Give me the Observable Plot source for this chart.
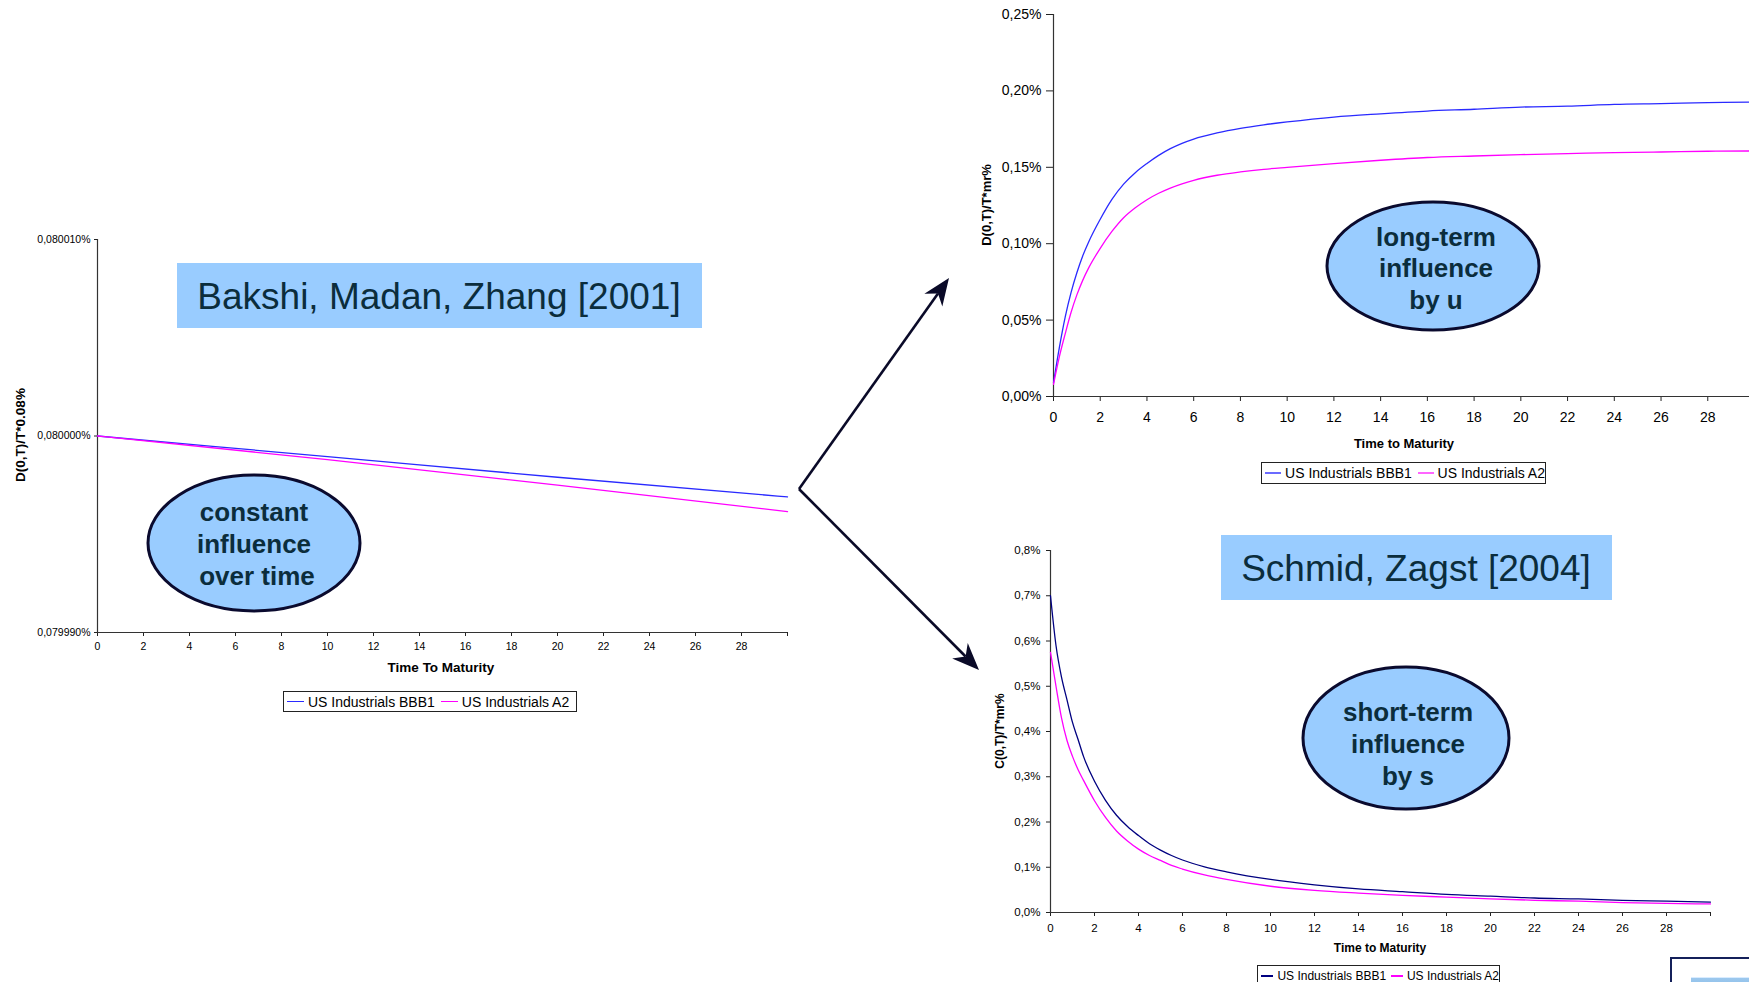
<!DOCTYPE html>
<html>
<head>
<meta charset="utf-8">
<script src="https://cdn.jsdelivr.net/npm/d3@7"></script>
<script src="https://cdn.jsdelivr.net/npm/@observablehq/plot@0.6"></script>
<style>
  html, body { margin: 0; padding: 0; background: #fff; overflow: hidden; }
  #stage { position: relative; width: 1749px; height: 982px; overflow: hidden; background: #fff;
           font-family: "Liberation Sans", Arial, sans-serif; }
  #stage > svg { position: absolute; }
  .legend { position: absolute; box-sizing: border-box; border: 1px solid #222; background: #fff;
            display: flex; align-items: center; white-space: nowrap; color: #000; padding-left: 3px; }
  .legend .sw { display: inline-block; width: 17px; height: 1.5px; margin-right: 4px; }
  .legend .gap { display: inline-block; width: 6px; }
  #corner { position: absolute; left: 1670px; top: 957px; width: 120px; height: 60px;
            border: 2.5px solid #14205a; background: #fff; }
  #corner div { position: absolute; left: 19px; top: 18px; width: 100px; height: 40px;
                background: linear-gradient(#9cc8ee, #5e9fd8); border-top: 1px solid #d9ecff; }
</style>
</head>
<body>
<div id="stage"></div>
<script>
// ---------------- data ----------------
const seriesNames = ["US Industrials BBB1", "US Industrials A2"];
const xTickValues = [0, 2, 4, 6, 8, 10, 12, 14, 16, 18, 20, 22, 24, 26, 28, 30];

// Bakshi, Madan, Zhang [2001]  (values in %)
const maturityBMZ = [0, 10, 20, 30];
const bmzBBB1 = [0.0800000, 0.07999895, 0.0799979, 0.0799969];
const bmzA2   = [0.0800000, 0.0799988, 0.0799975, 0.07999615];
const bmzYTicks = [0.07999, 0.08, 0.08001];

// long-term influence by u  (values in %)
const maturityU = [0, 0.25, 0.5, 0.75, 1, 1.25, 1.5, 2, 2.5, 3, 3.5, 4, 4.5, 5, 5.5, 6, 7, 8, 9, 10, 12, 14, 16, 18, 20, 22, 24, 26, 28, 30];
const uBBB1 = [0.009, 0.032, 0.052, 0.068, 0.081, 0.092, 0.101, 0.116, 0.129, 0.139, 0.1465, 0.1525, 0.1578, 0.1622, 0.1657, 0.1685, 0.1725, 0.1755, 0.1778, 0.1797, 0.1829, 0.185, 0.1868, 0.188, 0.1894, 0.190, 0.1912, 0.1917, 0.1923, 0.1927];
const uA2   = [0.008, 0.026, 0.041, 0.055, 0.0665, 0.076, 0.084, 0.097, 0.108, 0.117, 0.1235, 0.1288, 0.1330, 0.1364, 0.1392, 0.1415, 0.1448, 0.147, 0.1487, 0.150, 0.1524, 0.1546, 0.1564, 0.1574, 0.1583, 0.159, 0.1596, 0.160, 0.1605, 0.1607];
const uYTicks = [0, 0.05, 0.10, 0.15, 0.20, 0.25];

// Schmid, Zagst [2004]: short-term influence by s  (values in %)
const maturityS = [0, 0.25, 0.5, 0.75, 1, 1.25, 1.5, 2, 2.5, 3, 3.5, 4, 4.5, 5, 5.5, 6, 7, 8, 10, 12, 14, 16, 18, 20, 22, 24, 26, 28, 30];
const sBBB1 = [0.70, 0.59, 0.52, 0.47, 0.42, 0.383, 0.345, 0.29, 0.248, 0.215, 0.19, 0.17, 0.152, 0.138, 0.126, 0.116, 0.101, 0.090, 0.073, 0.061, 0.052, 0.046, 0.040, 0.036, 0.032, 0.030, 0.027, 0.025, 0.023];
const sA2   = [0.575, 0.50, 0.43, 0.38, 0.345, 0.316, 0.292, 0.247, 0.21, 0.18, 0.158, 0.14, 0.126, 0.115, 0.104, 0.096, 0.083, 0.073, 0.058, 0.049, 0.043, 0.038, 0.034, 0.030, 0.027, 0.025, 0.022, 0.020, 0.019];
const sYTicks = [0, 0.1, 0.2, 0.3, 0.4, 0.5, 0.6, 0.7, 0.8];

// ---------------- helpers ----------------
const FONT = '"Liberation Sans", Arial, sans-serif';
const stage = document.getElementById("stage");
const pct = spec => d => d3.format(spec)(d).replace(".", ",") + "%";

function makeChart(cfg) {
  const rows = [];
  cfg.t.forEach((t, i) => {
    rows.push({t, v: cfg.a[i], s: seriesNames[0]});
    rows.push({t, v: cfg.b[i], s: seriesNames[1]});
  });
  const svg = Plot.plot({
    width: cfg.width, height: cfg.height,
    marginLeft: cfg.ml, marginRight: cfg.mr, marginTop: cfg.mt, marginBottom: cfg.mb,
    style: {fontFamily: FONT, fontSize: cfg.fs + "px", color: "#222", background: "transparent", overflow: "visible"},
    x: {domain: [0, 30], axis: null},
    y: {domain: cfg.yDomain, axis: null},
    color: {domain: seriesNames, range: cfg.colors},
    marks: [
      Plot.axisY({anchor: "left", ticks: cfg.yTicks, tickFormat: cfg.yFmt, tickSize: cfg.yts, tickPadding: cfg.ytp, label: null, fill: "#000"}),
      Plot.axisX({anchor: "bottom", ticks: xTickValues, tickFormat: d => d === 30 ? "" : String(d), tickSize: cfg.xts, tickPadding: cfg.xtp, label: null, fill: "#000"}),
      Plot.ruleX([0], {stroke: "#333", strokeWidth: 1.2}),
      Plot.ruleY([cfg.yDomain[0]], {stroke: "#333", strokeWidth: 1.2}),
      Plot.line(rows, {x: "t", y: "v", z: "s", stroke: "s", strokeWidth: 1.3, curve: "monotone-x"})
    ]
  });
  svg.style.left = cfg.left + "px";
  svg.style.top = cfg.top + "px";
  stage.appendChild(svg);
}

// Left chart: Bakshi, Madan, Zhang
makeChart({
  t: maturityBMZ, a: bmzBBB1, b: bmzA2, colors: ["#2a2aff", "#ff00ff"],
  left: 0, top: 200, width: 795, height: 462, ml: 97, mr: 8, mt: 39, mb: 30,
  yDomain: [0.07999, 0.08001], yTicks: bmzYTicks, yFmt: pct(".6f"),
  fs: 10.5, yts: 3, ytp: 4, xts: 4, xtp: 6
});

// Top right chart: long-term influence by u
makeChart({
  t: maturityU, a: uBBB1, b: uA2, colors: ["#2a2aff", "#ff00ff"],
  left: 960, top: 0, width: 804, height: 426, ml: 93, mr: 10, mt: 14, mb: 30,
  yDomain: [0, 0.25], yTicks: uYTicks, yFmt: pct(".2f"),
  fs: 14, yts: 7, ytp: 5, xts: 5, xtp: 11
});

// Bottom right chart: Schmid, Zagst
makeChart({
  t: maturityS, a: sBBB1, b: sA2, colors: ["#000080", "#ff00ff"],
  left: 990, top: 530, width: 730, height: 412, ml: 60, mr: 10, mt: 20, mb: 30,
  yDomain: [0, 0.8], yTicks: sYTicks, yFmt: pct(".1f"),
  fs: 11.5, yts: 4, ytp: 6, xts: 4, xtp: 7
});

// ---------------- legends ----------------
function legend(x, y, w, h, fs, colors) {
  const d = document.createElement("div");
  d.className = "legend";
  Object.assign(d.style, {left: x + "px", top: y + "px", width: w + "px", height: h + "px", fontSize: fs + "px"});
  d.innerHTML = `<span class="sw" style="background:${colors[0]}"></span>${seriesNames[0]}<span class="gap"></span>` +
                `<span class="sw" style="background:${colors[1]}"></span>${seriesNames[1]}`;
  stage.appendChild(d);
}
legend(283, 691, 294, 21, 14, ["#2a2aff", "#ff00ff"]);
legend(1261, 462, 285, 22, 14, ["#6b6bff", "#ff66ff"]);
legend(1257, 965, 243, 22, 12, ["#000080", "#ff00ff"]);

// ---------------- overlay: labels, boxes, ellipses, arrows ----------------
function arrow(x0, y0, x1, y1) {
  const dx = x1 - x0, dy = y1 - y0, len = Math.hypot(dx, dy);
  const ux = dx / len, uy = dy / len, nx = -uy, ny = ux;
  const L = 27, W = 11, N = 19;
  const bx = x1 - L * ux, by = y1 - L * uy;
  const mx = x1 - N * ux, my = y1 - N * uy;
  return `<line x1="${x0}" y1="${y0}" x2="${mx}" y2="${my}" stroke="#0a0a28" stroke-width="2.6"/>` +
    `<path d="M${x1},${y1} L${bx + W * nx},${by + W * ny} L${mx},${my} L${bx - W * nx},${by - W * ny} Z" fill="#0a0a28"/>`;
}
const TXT = "#0b2d3c";
const overlay = `
<svg width="1749" height="982" style="left:0;top:0;pointer-events:none" xmlns="http://www.w3.org/2000/svg" font-family='${FONT}'>
  <!-- axis titles -->
  <text transform="translate(25,435) rotate(-90)" text-anchor="middle" font-weight="bold" font-size="13.5">D(0,T)/T*0.08%</text>
  <text x="441" y="672" text-anchor="middle" font-weight="bold" font-size="13.5">Time To Maturity</text>
  <text transform="translate(991,205) rotate(-90)" text-anchor="middle" font-weight="bold" font-size="13">D(0,T)/T*mr%</text>
  <text x="1404" y="448" text-anchor="middle" font-weight="bold" font-size="13">Time to Maturity</text>
  <text transform="translate(1004,731) rotate(-90)" text-anchor="middle" font-weight="bold" font-size="12">C(0,T)/T*mr%</text>
  <text x="1380" y="952" text-anchor="middle" font-weight="bold" font-size="12">Time to Maturity</text>

  <!-- title boxes -->
  <rect x="177" y="263" width="525" height="65" fill="#99ccff"/>
  <text x="439" y="309" text-anchor="middle" font-size="37" fill="${TXT}">Bakshi, Madan, Zhang [2001]</text>
  <rect x="1221" y="535" width="391" height="65" fill="#99ccff"/>
  <text x="1416" y="581" text-anchor="middle" font-size="37" fill="${TXT}">Schmid, Zagst [2004]</text>

  <!-- ellipses -->
  <g font-weight="bold" font-size="26" fill="${TXT}" text-anchor="middle">
    <ellipse cx="254" cy="543" rx="106" ry="68" fill="#99ccff" stroke="#0a0a2e" stroke-width="3"/>
    <text x="254" y="521">constant</text>
    <text x="254" y="553">influence</text>
    <text x="257" y="585">over time</text>

    <ellipse cx="1433" cy="266" rx="106" ry="64" fill="#99ccff" stroke="#0a0a2e" stroke-width="3"/>
    <text x="1436" y="246">long-term</text>
    <text x="1436" y="277">influence</text>
    <text x="1436" y="309">by u</text>

    <ellipse cx="1406" cy="738" rx="103" ry="71" fill="#99ccff" stroke="#0a0a2e" stroke-width="3"/>
    <text x="1408" y="721">short-term</text>
    <text x="1408" y="753">influence</text>
    <text x="1408" y="785">by s</text>
  </g>

  <!-- arrows -->
  ${arrow(799, 489, 949, 278)}
  ${arrow(799, 489, 979, 670)}
</svg>`;
stage.insertAdjacentHTML("beforeend", overlay);

const corner = document.createElement("div");
corner.id = "corner";
corner.innerHTML = "<div></div>";
stage.appendChild(corner);
</script>
</body>
</html>
